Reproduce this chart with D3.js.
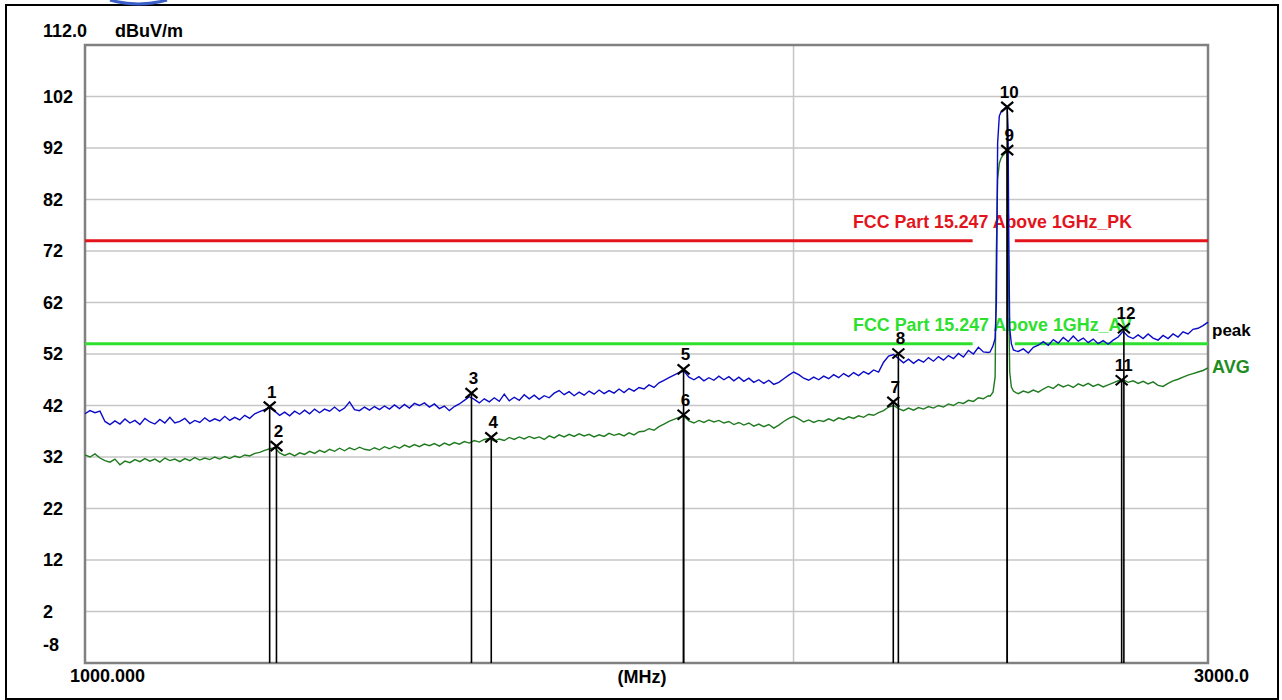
<!DOCTYPE html>
<html>
<head>
<meta charset="utf-8">
<script src="https://cdn.jsdelivr.net/npm/d3@7"></script>
<style>
  body { margin: 0; background: #fff; }
  svg text { font-family: "Liberation Sans", Arial, sans-serif; font-weight: bold; }
</style>
</head>
<body>
<svg id="chart" width="1282" height="700"></svg>
<script>
// sweep span and axis labels
var sweepStart = 1000, sweepStop = 3000;
var levelTop = 112, levelBottom = -8;
var yTicks = [102, 92, 82, 72, 62, 52, 42, 32, 22, 12, 2, -8];
var xGrid = [2000];

// limit lines (dBuV/m) and the band left open around the carrier
var limitPK = 74, limitAV = 54;
var limitSpans = [[1000, 2383], [2483.5, 3000]];
var limitPKLabel = 'FCC Part 15.247 Above 1GHz_PK';
var limitAVLabel = 'FCC Part 15.247 Above 1GHz_AV';

var peakTrace = [
  40.4,41.0,40.6,40.9,38.9,38.3,39.0,38.4,39.4,38.6,39.1,38.3,39.5,38.8,38.4,39.3,38.6,39.7,38.6,38.9,
  39.5,38.5,39.1,38.7,39.6,38.9,39.4,39.0,39.9,39.1,39.7,39.2,40.1,39.5,40.4,40.8,41.2,41.6,40.9,40.1,
  40.7,40.0,40.9,40.3,41.1,40.4,41.3,40.6,41.3,40.9,41.7,40.9,41.5,42.7,41.2,41.0,41.7,41.1,41.8,41.2,
  41.9,41.3,42.1,41.4,42.2,41.5,42.4,42.0,42.5,41.7,42.3,41.4,41.9,41.0,41.8,42.3,43.0,43.7,43.2,42.5,
  43.3,42.7,43.5,42.8,44.2,42.9,43.6,43.0,44.1,43.3,44.0,43.2,43.9,43.5,44.4,44.9,44.1,44.7,43.9,44.6,
  44.0,44.8,44.2,45.0,44.3,44.9,44.4,45.2,44.5,45.3,44.8,45.5,45.2,46.0,45.5,46.4,46.9,47.4,47.9,48.4,
  48.7,47.5,47.0,47.6,46.8,47.4,46.9,47.7,47.0,47.6,46.8,47.5,46.7,47.3,46.5,47.0,46.3,46.9,46.1,46.5,
  47.2,47.9,48.5,48.0,47.3,46.9,47.5,47.0,47.7,47.2,48.0,47.4,48.2,47.6,48.4,47.8,48.6,48.1,48.9,48.5,
  50.4,51.6,51.9,51.1,50.3,51.0,50.2,50.9,50.4,51.3,50.6,51.5,50.8,51.7,51.1,52.1,51.4,52.7,52.0,53.3,
  52.4,52.3,null,null,null,null,null,52.5,53.0,52.2,53.3,53.7,54.4,53.7,54.8,54.1,55.2,54.4,55.5,54.5,
  55.1,54.2,54.9,54.0,54.6,53.9,54.7,55.3,56.4,55.4,55.0,55.7,55.0,55.9,55.1,54.7,55.6,55.0,55.9,55.3,
  56.3,55.9,56.8,57.0,57.5,58.2
];
var avgTrace = [
  32.4,32.0,32.6,31.8,31.3,31.0,31.6,30.5,31.2,30.9,31.5,31.1,31.7,31.2,31.6,31.0,31.8,31.3,31.6,31.1,
  31.7,31.3,31.9,31.4,31.8,31.5,32.0,31.6,32.1,31.7,32.2,31.9,32.4,32.2,32.7,32.9,33.3,33.6,33.8,32.8,
  32.3,32.7,32.2,32.8,32.5,33.1,32.7,33.3,32.9,33.5,33.1,33.7,33.2,33.8,33.4,33.9,33.5,33.3,33.8,33.4,
  34.0,33.6,34.1,33.7,34.3,33.9,34.4,34.0,34.5,34.2,34.6,34.1,34.7,34.3,34.8,34.5,35.0,34.7,35.2,34.9,
  35.4,35.6,35.1,35.5,35.2,35.8,35.4,35.9,35.5,36.0,35.6,35.9,35.4,36.1,35.7,36.3,35.9,36.4,36.0,36.5,
  36.1,36.4,35.9,36.3,36.0,36.6,36.2,36.5,36.1,36.7,36.3,36.9,37.0,37.5,37.2,37.9,38.4,38.9,39.3,39.7,
  39.9,39.0,38.6,39.1,38.7,39.2,38.8,39.1,38.6,38.9,38.3,38.7,38.2,38.6,38.0,38.4,37.9,38.3,37.6,38.2,
  38.9,39.5,39.9,39.4,38.8,39.2,38.7,39.1,38.9,39.4,39.0,39.6,39.3,39.8,39.5,40.0,39.7,40.3,40.1,40.6,
  41.0,41.7,42.0,41.4,41.0,41.5,41.1,41.6,41.3,41.8,41.5,42.0,41.7,42.3,42.0,42.6,42.4,43.0,42.8,43.5,
  43.3,43.9,null,null,null,null,null,44.3,44.8,44.5,45.0,44.6,45.2,45.7,45.3,46.1,45.6,46.0,45.5,46.2,
  45.8,46.3,45.7,46.1,45.6,46.0,46.4,46.8,47.0,46.5,46.8,46.3,46.7,46.2,46.6,45.9,45.7,46.3,46.8,47.1,
  47.5,47.9,48.2,48.5,48.8,49.3
];

// carrier, read more finely
var carrierFreq = [2424, 2431, 2436, 2439, 2442, 2446, 2450, 2455, 2460, 2465, 2467, 2469, 2471, 2475, 2480, 2486];
var carrierPeak = [52.4, 53.6, 55.0, 62.0, 93.0, 98.2, 99.0, 99.4, 99.8, 100.0, 96.0, 72.0, 57.0, 54.0, 52.8, 52.6];
var carrierAvg  = [43.8, 44.6, 47.5, 72.0, 86.0, 89.0, 90.0, 90.6, 91.0, 91.4, 84.0, 60.0, 48.5, 45.6, 44.8, 44.5];

// markers
var markerNo    = [1, 2, 3, 4, 5, 6, 7, 8, 9, 10, 11, 12];
var markerFreq  = [1198, 1206, 1459.5, 1488, 1796, 1796, 2205, 2216, 2465, 2465, 2757, 2763];
var markerLevel = [41.8, 34.1, 44.4, 35.8, 49.0, 40.2, 42.7, 52.1, 91.6, 100.0, 46.9, 57.0];

var svg = d3.select('#chart');
var plotL = 85, plotR = 1208, plotT = 45, plotB = 663;

var x = d3.scaleLog().domain([sweepStart, sweepStop]).range([plotL, plotR]);
var y = d3.scaleLinear().domain([levelBottom, levelTop]).range([plotB, plotT]);

function buildTrace(base, carrier) {
  var n = base.length, pts = [];
  base.forEach(function(v, i) {
    if (v === null) return;
    pts.push([sweepStart * Math.pow(sweepStop / sweepStart, i / (n - 1)), v]);
  });
  carrierFreq.forEach(function(f, i) { pts.push([f, carrier[i]]); });
  return pts.sort(function(a, b) { return a[0] - b[0]; });
}

// outer frame and logo stub
svg.append('rect').attr('width', 1282).attr('height', 700).attr('fill', '#fff');
svg.append('rect').attr('x', 6).attr('y', 5).attr('width', 1272).attr('height', 694)
   .attr('fill', 'none').attr('stroke', '#000').attr('stroke-width', 2);
svg.append('path').attr('d', 'M110,0 Q138,8 167,0')
   .attr('fill', 'none').attr('stroke', '#3a5fc8').attr('stroke-width', 3);

// grid
svg.append('g').selectAll('line')
   .data(yTicks.filter(function(d) { return d > levelBottom; }))
   .enter().append('line')
   .attr('x1', plotL).attr('x2', plotR)
   .attr('y1', function(d) { return y(d); }).attr('y2', function(d) { return y(d); })
   .attr('stroke', '#c6c6c6').attr('stroke-width', 1.5);
svg.append('g').selectAll('line')
   .data(xGrid).enter().append('line')
   .attr('x1', function(d) { return x(d); }).attr('x2', function(d) { return x(d); })
   .attr('y1', plotT).attr('y2', plotB)
   .attr('stroke', '#c6c6c6').attr('stroke-width', 1.5);

svg.append('rect').attr('x', plotL).attr('y', plotT)
   .attr('width', plotR - plotL).attr('height', plotB - plotT)
   .attr('fill', 'none').attr('stroke', '#808080').attr('stroke-width', 2.5);

// y labels
svg.append('g').selectAll('text')
   .data(yTicks).enter().append('text')
   .attr('x', 43)
   .attr('y', function(d) { return d === levelBottom ? y(d) - 12 : y(d) + 6; })
   .attr('font-size', 18)
   .text(function(d) { return d; });
svg.append('text').attr('x', 43).attr('y', 37).attr('font-size', 18).text(levelTop.toFixed(1));
svg.append('text').attr('x', 115).attr('y', 37).attr('font-size', 18).text('dBuV/m');

// x labels
svg.append('text').attr('x', 70).attr('y', 682).attr('font-size', 18).text(sweepStart.toFixed(3));
svg.append('text').attr('x', 1249).attr('y', 682).attr('font-size', 18)
   .attr('text-anchor', 'end').text(sweepStop.toFixed(1));
svg.append('text').attr('x', 642).attr('y', 683).attr('font-size', 18)
   .attr('text-anchor', 'middle').text('(MHz)');

// limit lines
var limits = [
  {level: limitPK, color: '#e3141c', label: limitPKLabel},
  {level: limitAV, color: '#2ee02e', label: limitAVLabel}
];
limits.forEach(function(L) {
  limitSpans.forEach(function(s) {
    svg.append('line')
       .attr('x1', x(s[0])).attr('x2', x(s[1]))
       .attr('y1', y(L.level)).attr('y2', y(L.level))
       .attr('stroke', L.color).attr('stroke-width', 3);
  });
  svg.append('text')
     .attr('x', 853).attr('y', y(L.level) - 13)
     .attr('font-size', 19).attr('fill', L.color)
     .attr('textLength', 279).attr('lengthAdjust', 'spacingAndGlyphs')
     .text(L.label);
});

// traces
var line = d3.line()
  .x(function(d) { return x(d[0]); })
  .y(function(d) { return y(d[1]); });

var avgPts = buildTrace(avgTrace, carrierAvg);
var peakPts = buildTrace(peakTrace, carrierPeak);

svg.append('path').datum(avgPts).attr('d', line)
   .attr('fill', 'none').attr('stroke', '#1f7a1f').attr('stroke-width', 1.4);
svg.append('path').datum(peakPts).attr('d', line)
   .attr('fill', 'none').attr('stroke', '#0a0ac8').attr('stroke-width', 1.4);

svg.append('text').attr('x', 1212).attr('y', y(peakPts[peakPts.length - 1][1]) + 14)
   .attr('font-size', 17).text('peak');
svg.append('text').attr('x', 1212).attr('y', y(avgPts[avgPts.length - 1][1]) + 5)
   .attr('font-size', 18).attr('fill', '#1e8c1e').text('AVG');

// markers
var marks = markerNo.map(function(n, i) {
  return {no: n, f: markerFreq[i], v: markerLevel[i]};
});
var mk = svg.append('g').selectAll('g').data(marks).enter().append('g')
   .attr('transform', function(d) { return 'translate(' + x(d.f) + ',' + y(d.v) + ')'; });
mk.append('line')
  .attr('x1', 0).attr('x2', 0).attr('y1', 0)
  .attr('y2', function(d) { return plotB - y(d.v); })
  .attr('stroke', '#000').attr('stroke-width', 1.6);
mk.append('path')
  .attr('d', 'M-6,-5L6,5M-6,5L6,-5')
  .attr('stroke', '#000').attr('stroke-width', 2.2);
mk.append('text')
  .attr('x', 2).attr('y', -9)
  .attr('text-anchor', 'middle').attr('font-size', 17)
  .text(function(d) { return d.no; });
</script>
</body>
</html>
